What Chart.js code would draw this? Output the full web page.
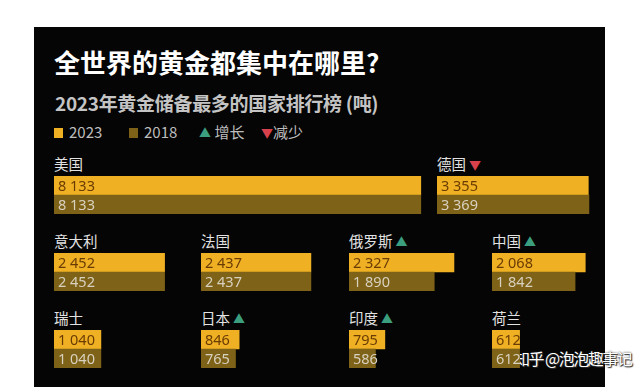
<!DOCTYPE html>
<html>
<head>
<meta charset="utf-8">
<script src="https://cdn.jsdelivr.net/npm/chart.js@4.4.0/dist/chart.umd.min.js"></script>
<style>
  body { margin: 0; background: #fff; width: 640px; height: 387px; overflow: hidden; position: relative;
         font-family: "Noto Sans CJK SC", "Noto Sans", sans-serif; }
  #panel { position: absolute; left: 34px; top: 27px; width: 571px; height: 360px; background: #050505; }
  .abs { position: absolute; white-space: nowrap; }
  #title { left: 54px; top: 43px; font-size: 26px; font-weight: bold; color: #fff; }
  #subtitle { left: 55px; top: 89px; font-size: 19px; font-weight: bold; color: #c4c4c4; letter-spacing: -0.3px; }
  .legend { top: 121px; font-size: 15px; color: #bdbdbd; }
  .sq { display: inline-block; width: 9px; height: 10px; margin-right: 6px; vertical-align: 0px; }
  .country { font-size: 14.5px; color: #e2e2e2; }
  .up { color: #3a9e7f; font-size: 12px; margin-left: 3px; }
  .down { color: #d8414c; font-size: 12px; margin-left: 3px; }
  canvas { position: absolute; }
  #wm { left: 514px; top: 346px; font-size: 16px; letter-spacing: -1.5px; color: #fff; text-shadow: 0 0 2px #222, 1px 1px 1px #333; }
</style>
</head>
<body>
<div id="panel"></div>
<div class="abs" id="title">全世界的黄金都集中在哪里?</div>
<div class="abs" id="subtitle">2023年黄金储备最多的国家排行榜 (吨)</div>
<div class="abs legend" style="left:54px"><span class="sq" style="background:#efb023"></span>2023</div>
<div class="abs legend" style="left:129px"><span class="sq" style="background:#7d6217"></span>2018</div>
<div class="abs legend" style="left:199px"><span style="color:#3a9e7f;font-size:12px">▲</span> 增长</div>
<div class="abs legend" style="left:261px"><span style="color:#d8414c;font-size:12px">▼</span>减少</div>
<div class="abs" id="wm">知乎 @泡泡趣事记</div>
<script>
// 数据 (吨)
const countries = ['美国', '德国', '意大利', '法国', '俄罗斯', '中国', '瑞士', '日本', '印度', '荷兰'];
const reserves2023 = [8133, 3355, 2452, 2437, 2327, 2068, 1040, 846, 795, 612];
const reserves2018 = [8133, 3369, 2452, 2437, 1890, 1842, 1040, 765, 586, 612];
const seriesLabels = ['2023', '2018'];

// 布局: 每个国家的位置 (与数据分开)
const slots = [
    { x: 54, y: 153, w: 370 }, { x: 437, y: 153, w: 160 },
    { x: 54, y: 230, w: 140 }, { x: 201, y: 230, w: 140 }, { x: 349, y: 230, w: 140 }, { x: 492, y: 230, w: 105 },
    { x: 54, y: 307, w: 140 }, { x: 201, y: 307, w: 140 }, { x: 349, y: 307, w: 140 }, { x: 492, y: 307, w: 105 }
];
const pxPerTon = 0.0451;
const barBlock = 19;

const fmt = v => String(v).replace(/\B(?=(\d{3})+(?!\d))/g, ' ');

// 在柱子里写数值
const valueLabels = {
    id: 'valueLabels',
    afterDatasetsDraw(chart) {
        const ctx = chart.ctx;
        const meta = chart.getDatasetMeta(0);
        ctx.save();
        ctx.font = '14.5px "Noto Sans", sans-serif';
        ctx.textBaseline = 'middle';
        meta.data.forEach((bar, i) => {
            ctx.fillStyle = i === 0 ? '#6a3c04' : '#d9d1bf';
            ctx.fillText(fmt(chart.data.datasets[0].data[i]), bar.base + 4, bar.y + 1);
        });
        ctx.restore();
    }
};

countries.forEach((name, i) => {
    const s = slots[i];
    const label = document.createElement('div');
    label.className = 'abs country';
    label.style.left = s.x + 'px';
    label.style.top = s.y + 'px';
    label.textContent = name;
    const diff = reserves2023[i] - reserves2018[i];
    if (diff !== 0) {
        const tri = document.createElement('span');
        tri.className = diff > 0 ? 'up' : 'down';
        tri.textContent = diff > 0 ? '▲' : '▼';
        label.appendChild(tri);
    }
    document.body.appendChild(label);

    const canvas = document.createElement('canvas');
    canvas.width = s.w;
    canvas.height = barBlock * 2;
    canvas.style.left = s.x + 'px';
    canvas.style.top = (s.y + 23) + 'px';
    canvas.style.width = s.w + 'px';
    canvas.style.height = (barBlock * 2) + 'px';
    document.body.appendChild(canvas);

    new Chart(canvas, {
        type: 'bar',
        data: {
            labels: seriesLabels,
            datasets: [{
                data: [reserves2023[i], reserves2018[i]],
                backgroundColor: ['#efb023', '#7d6217'],
                borderWidth: 0,
                categoryPercentage: 1,
                barPercentage: 1
            }]
        },
        options: {
            indexAxis: 'y',
            responsive: false,
            animation: false,
            layout: { padding: 0 },
            scales: {
                x: { display: false, min: 0, max: s.w / pxPerTon },
                y: { display: false }
            },
            plugins: { legend: { display: false }, tooltip: { enabled: false } }
        },
        plugins: [valueLabels]
    });
});
</script>
</body>
</html>
